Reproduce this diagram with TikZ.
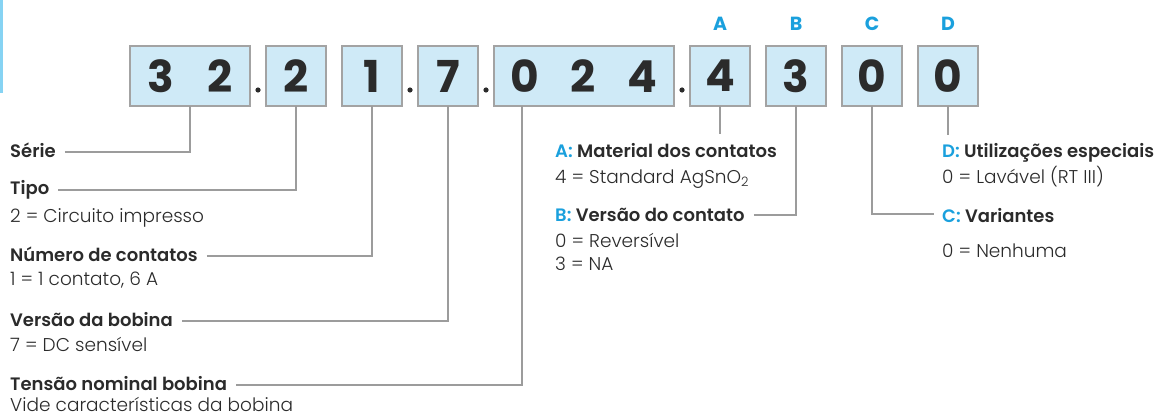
\documentclass[tikz,border=0pt]{standalone}
\usepackage{fontspec}
\setmainfont{Poppins Light}[BoldFont={Poppins SemiBold}]
\newfontfamily\digitfont{Poppins Bold}
\usetikzlibrary{positioning,calc}
\definecolor{boxfill}{HTML}{CFEAF7}
\definecolor{boxline}{HTML}{A3A3A3}
\definecolor{connline}{HTML}{9C9C9C}
\definecolor{keyblue}{HTML}{1AA0DD}
\definecolor{barblue}{HTML}{86D3F3}
\definecolor{ink}{HTML}{2B2B2B}

\begin{document}
\begin{tikzpicture}[x=1pt,y=-1pt,
  box/.style={draw=boxline,line width=1.5pt,fill=boxfill,minimum width=60pt,minimum height=60pt,inner sep=0pt,outer sep=0pt,text=ink,font=\fontsize{44}{44}\digitfont},
  key/.style={inner sep=0pt,text=keyblue,font=\fontsize{19}{20}\digitfont},
  title/.style={anchor=base west,inner sep=0pt,text=ink,font=\fontsize{18}{20}\selectfont\bfseries},
  value/.style={anchor=base west,inner sep=0pt,text=ink,font=\fontsize{18.5}{20}\selectfont},
  conn/.style={draw=connline,line width=1.1pt}]

\useasboundingbox (0,0) rectangle (1158,417);
\fill[barblue] (0,0) rectangle (2.5,93);

\node[box,minimum width=120pt](b1) at (190,76){3\hspace{34pt}2};
\node[box](b2)[right=16pt of b1]{2};
\node[box](b3)[right=16pt of b2]{1};
\node[box](b4)[right=16pt of b3]{7};
\node[box,minimum width=180pt](b5)[right=16pt of b4]{0\hspace{32pt}2\hspace{32pt}4};
\node[box](b6)[right=16pt of b5]{4};
\node[box](b7)[right=16pt of b6]{3};
\node[box](b8)[right=16pt of b7]{0};
\node[box](b9)[right=16pt of b8]{0};

\foreach \l/\r in {b1/b2,b3/b4,b4/b5,b5/b6}
  \fill[ink] ($(\l.east)!0.5!(\r.west)+(0,14)$) circle (2.6pt);

\node[key](ka)[above=15pt of b6]{A};
\node[key](kb)[above=15pt of b7]{B};
\node[key](kc)[above=15pt of b8]{C};
\node[key](kd)[above=15pt of b9]{D};

\node[title](serie) at (10,157){Série};
\node[title](tipo) at (10,194){Tipo};
\node[value](tipov) at (10,222){2 = Circuito impresso};
\node[title](numero) at (10,261){Número de contatos};
\node[value](numerov) at (10,285){1 = 1 contato, 6 A};
\node[title](versao) at (10,326){Versão da bobina};
\node[value](versaov) at (10,351){7 = DC sensível};
\node[title](tensao) at (10,390){Tensão nominal bobina};
\node[value](tensaov) at (10,411){Vide características da bobina};

\node[title](material) at (555,157){\textcolor{keyblue}{A:} Material dos contatos};
\node[value](materialv) at (555,183){4 = Standard AgSnO\textsubscript{2}};
\node[title](contato) at (555,221){\textcolor{keyblue}{B:} Versão do contato};
\node[value](contatov) at (555,247){0 = Reversível};
\node[value](contatovb) at (555,270){3 = NA};
\node[title](especiais) at (942,157){\textcolor{keyblue}{D:} Utilizações especiais};
\node[value](especiaisv) at (942,183){0 = Lavável (RT III)};
\node[title](variantes) at (942,222){\textcolor{keyblue}{C:} Variantes};
\node[value](variantesv) at (942,257){0 = Nenhuma};

\coordinate(aend) at ($(b6.south)+(0,28)$);
\coordinate(dend) at ($(b9.south)+(0,29)$);

\draw[conn] ($(serie.base east)+(9,-5)$) -| (b1.south);
\draw[conn] ($(tipo.base east)+(9,-4)$) -| (b2.south);
\draw[conn] ($(numero.base east)+(9,-5)$) -| (b3.south);
\draw[conn] ($(versao.base east)+(9,-5)$) -| (b4.south);
\draw[conn] ($(tensao.base east)+(9,-5)$) -| ($(b5.south west)+(28,0)$);
\draw[conn] (b6.south) -- (aend);
\draw[conn] ($(contato.base east)+(9,-6)$) -| (b7.south);
\draw[conn] (b8.south) |- ($(variantes.base west)+(-8,-8)$);
\draw[conn] (b9.south) -- (dend);

\end{tikzpicture}
\end{document}
